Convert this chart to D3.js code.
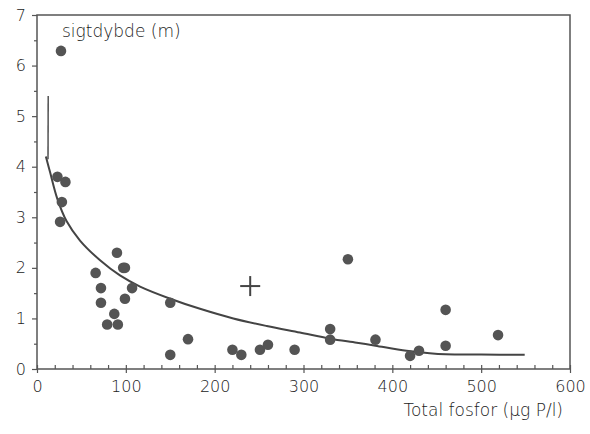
<!DOCTYPE html>
<html>
<head>
<meta charset="utf-8">
<script src="https://cdn.jsdelivr.net/npm/d3@7"></script>
<style>
  body { margin: 0; background: #fff; }
  svg text { font-family: "DejaVu Sans", sans-serif; font-weight: 200; fill: #222; }
</style>
</head>
<body>
<div id="chart"></div>
<script>
// Data: total phosphorus (µg P/l) vs Secchi depth (m)
var fosfor = [27, 23, 32, 28, 26, 66, 90, 97, 99, 72, 107, 72, 99, 87, 79, 91,
              150, 150, 170, 220, 230, 251, 260, 290, 330, 330, 350, 381, 420, 430, 460, 460, 519];
var sigtdybde = [6.29, 3.8, 3.7, 3.3, 2.91, 1.9, 2.3, 2.0, 2.0, 1.6, 1.6, 1.31, 1.39, 1.09, 0.88, 0.88,
                 1.31, 0.28, 0.59, 0.38, 0.28, 0.38, 0.48, 0.38, 0.79, 0.58, 2.17, 0.58, 0.26, 0.36, 1.17, 0.46, 0.67];

// the cross marker
var crossX = [240];
var crossY = [1.64];

// the fitted curve
var curveX = [10, 14.6, 23, 33.4, 48.4, 71, 93.4, 116, 150, 183.5, 221, 258.6, 296, 330, 360, 381, 416, 442, 460, 500, 549];
var curveY = [4.2, 3.9, 3.36, 2.92, 2.54, 2.15, 1.85, 1.63, 1.39, 1.19, 1.0, 0.85, 0.72, 0.6, 0.52, 0.46, 0.36, 0.31, 0.29, 0.285, 0.28];
// short vertical spur at the top of the curve
var spurX = [12.6, 12.4];
var spurY = [5.4, 4.15];

var xTicks = [0, 100, 200, 300, 400, 500, 600];
var yTicks = [0, 1, 2, 3, 4, 5, 6, 7];

var W = 590, H = 434;
var margin = {top: 15, right: 20, bottom: 65, left: 37};
var width = W - margin.left - margin.right;
var height = H - margin.top - margin.bottom;

var svg = d3.select('#chart').append('svg')
  .attr('width', W)
  .attr('height', H);

var chart = svg.append('g')
  .attr('transform', 'translate(' + margin.left + ',' + margin.top + ')');

var x = d3.scaleLinear().domain([0, 600]).range([0, width]);
var y = d3.scaleLinear().domain([0, 7]).range([height, 0]);

var ink = '#555';

// frame
chart.append('rect')
  .attr('width', width)
  .attr('height', height)
  .style('fill', 'none')
  .style('stroke', ink)
  .style('stroke-width', 1.5);

// x axis: minor ticks inward, major ticks crossing
var xMinor = d3.range(20, 600, 20).filter(function(d) { return d % 100 !== 0; });
chart.append('g')
  .attr('transform', 'translate(0,' + height + ')')
  .call(d3.axisBottom(x).tickValues(xMinor).tickSize(-4).tickFormat(''))
  .call(function(g) { g.select('.domain').remove(); })
  .selectAll('line').style('stroke', ink).style('stroke-width', 1.2);

var xAxis = chart.append('g')
  .attr('transform', 'translate(0,' + height + ')')
  .call(d3.axisBottom(x).tickValues(xTicks).tickSize(4).tickPadding(8).tickFormat(d3.format('d')));
xAxis.select('.domain').remove();
xAxis.selectAll('line').attr('y1', -4).style('stroke', ink).style('stroke-width', 1.2);
xAxis.selectAll('text').style('font-size', '16px').style('fill', '#222');

// y axis: ticks outward
var yMinor = d3.range(0.5, 7, 1);
chart.append('g')
  .call(d3.axisLeft(y).tickValues(yMinor).tickSize(3).tickFormat(''))
  .call(function(g) { g.select('.domain').remove(); })
  .selectAll('line').style('stroke', ink).style('stroke-width', 1.2);

var yAxis = chart.append('g')
  .call(d3.axisLeft(y).tickValues(yTicks).tickSize(5).tickPadding(6).tickFormat(d3.format('d')));
yAxis.select('.domain').remove();
yAxis.selectAll('line').style('stroke', ink).style('stroke-width', 1.2);
yAxis.selectAll('text').style('font-size', '16px').style('fill', '#222');

// curve
var line = d3.line()
  .x(function(d) { return x(d[0]); })
  .y(function(d) { return y(d[1]); })
  .curve(d3.curveCatmullRom);

chart.append('path')
  .datum(d3.zip(curveX, curveY))
  .attr('d', line)
  .style('fill', 'none')
  .style('stroke', '#444')
  .style('stroke-width', 2);

chart.append('path')
  .datum(d3.zip(spurX, spurY))
  .attr('d', d3.line().x(function(d) { return x(d[0]); }).y(function(d) { return y(d[1]); }))
  .style('fill', 'none')
  .style('stroke', '#444')
  .style('stroke-width', 1.4);

// points
chart.selectAll('.dot')
  .data(d3.zip(fosfor, sigtdybde))
  .enter()
  .append('circle')
  .classed('dot', true)
  .attr('cx', function(d) { return x(d[0]); })
  .attr('cy', function(d) { return y(d[1]); })
  .attr('r', 5.3)
  .style('fill', '#545454');

// cross
var cross = chart.selectAll('.cross')
  .data(d3.zip(crossX, crossY))
  .enter()
  .append('g')
  .classed('cross', true)
  .attr('transform', function(d) { return 'translate(' + x(d[0]) + ',' + y(d[1]) + ')'; });
cross.append('line').attr('x1', -10).attr('x2', 10).style('stroke', '#444').style('stroke-width', 2);
cross.append('line').attr('y1', -10).attr('y2', 10).style('stroke', '#444').style('stroke-width', 2);

// axis titles
svg.append('text')
  .attr('x', 62)
  .attr('y', 37)
  .style('font-size', '17px')
  .text('sigtdybde (m)');

svg.append('text')
  .attr('x', 563)
  .attr('y', 416)
  .style('text-anchor', 'end')
  .style('font-size', '17px')
  .text('Total fosfor (µg P/l)');
</script>
</body>
</html>
